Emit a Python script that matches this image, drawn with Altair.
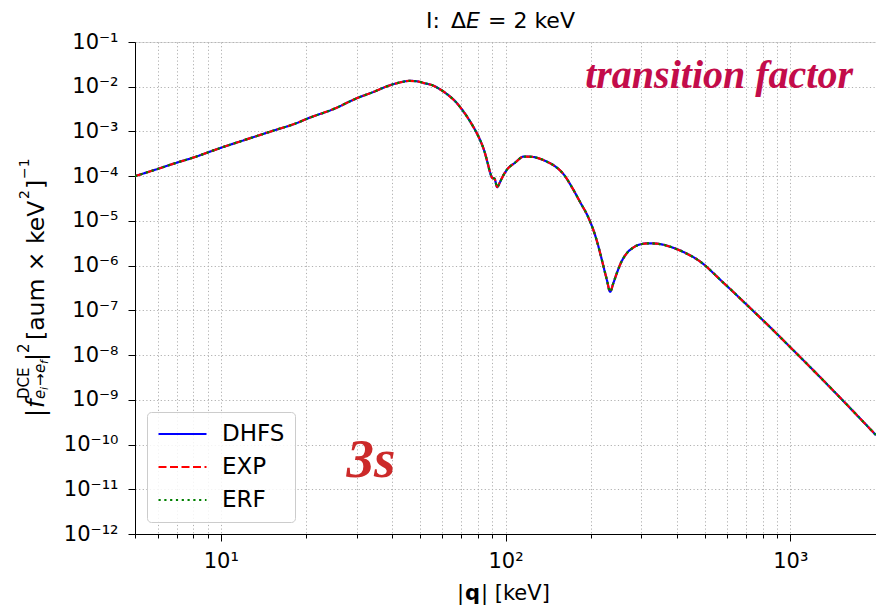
import altair as alt
import pandas as pd

# momentum transfer |q| in keV and the 3s transition factor for each model
q_kev = [5, 6, 7, 8, 10, 12, 15, 19, 20, 25, 30, 35, 38, 42, 46, 49, 52, 55.6, 58,
         61.8, 66, 70.6, 75, 78.7, 82, 84.1, 86.5, 88.5, 89.8, 91.5, 93.5, 95.5, 97.5,
         101, 108, 116, 124, 131, 140, 150, 160, 171, 183, 195, 209, 215, 221, 227,
         233, 239, 246, 255, 266, 280, 295, 317, 340, 382, 430, 473, 586, 726, 853,
         1000, 1208, 1457, 1700, 2000]

dhfs = [1.0e-4, 1.45e-4, 2.0e-4, 2.6e-4, 4.3e-4, 6.3e-4, 1.0e-3, 1.65e-3, 1.9e-3,
        3.2e-3, 5.5e-3, 8.0e-3, 1.0e-2, 1.22e-2, 1.35e-2, 1.32e-2, 1.2e-2, 1.07e-2,
        9.3e-3, 7.1e-3, 5.0e-3, 3.0e-3, 1.7e-3, 1.0e-3, 5.8e-4, 3.8e-4, 2.0e-4,
        1.15e-4, 9.2e-5, 8.8e-5, 5.7e-5, 7.2e-5, 9.5e-5, 1.38e-4, 2.0e-4, 2.75e-4,
        2.7e-4, 2.5e-4, 2.1e-4, 1.63e-4, 1.1e-4, 5.7e-5, 2.6e-5, 1.23e-5, 3.7e-6,
        1.9e-6, 9.4e-7, 4.8e-7, 2.6e-7, 4.0e-7, 6.8e-7, 1.2e-6, 1.86e-6, 2.5e-6,
        2.95e-6, 3.15e-6, 3.1e-6, 2.6e-6, 1.9e-6, 1.35e-6, 4.0e-7, 1.1e-7, 4.1e-8,
        1.5e-8, 4.5e-9, 1.33e-9, 4.8e-10, 1.62e-10]

exp_fit = [1.0e-4, 1.45e-4, 2.0e-4, 2.6e-4, 4.3e-4, 6.3e-4, 1.0e-3, 1.65e-3, 1.9e-3,
           3.2e-3, 5.5e-3, 8.0e-3, 1.0e-2, 1.22e-2, 1.35e-2, 1.32e-2, 1.2e-2, 1.07e-2,
           9.3e-3, 7.1e-3, 5.0e-3, 3.0e-3, 1.7e-3, 1.0e-3, 5.8e-4, 3.8e-4, 2.0e-4,
           1.15e-4, 9.2e-5, 8.8e-5, 5.7e-5, 7.2e-5, 9.5e-5, 1.38e-4, 2.0e-4, 2.75e-4,
           2.7e-4, 2.5e-4, 2.1e-4, 1.63e-4, 1.1e-4, 5.7e-5, 2.6e-5, 1.23e-5, 3.7e-6,
           1.9e-6, 9.4e-7, 4.8e-7, 2.6e-7, 4.0e-7, 6.8e-7, 1.2e-6, 1.86e-6, 2.5e-6,
           2.95e-6, 3.15e-6, 3.1e-6, 2.6e-6, 1.9e-6, 1.35e-6, 4.0e-7, 1.1e-7, 4.1e-8,
           1.5e-8, 4.5e-9, 1.33e-9, 4.8e-10, 1.62e-10]

erf_fit = [1.0e-4, 1.45e-4, 2.0e-4, 2.6e-4, 4.3e-4, 6.3e-4, 1.0e-3, 1.65e-3, 1.9e-3,
           3.2e-3, 5.5e-3, 8.0e-3, 1.0e-2, 1.22e-2, 1.35e-2, 1.32e-2, 1.2e-2, 1.07e-2,
           9.3e-3, 7.1e-3, 5.0e-3, 3.0e-3, 1.7e-3, 1.0e-3, 5.8e-4, 3.8e-4, 2.0e-4,
           1.15e-4, 9.2e-5, 8.8e-5, 5.7e-5, 7.2e-5, 9.5e-5, 1.38e-4, 2.0e-4, 2.75e-4,
           2.7e-4, 2.5e-4, 2.1e-4, 1.63e-4, 1.1e-4, 5.7e-5, 2.6e-5, 1.23e-5, 3.7e-6,
           1.9e-6, 9.4e-7, 4.8e-7, 2.6e-7, 4.0e-7, 6.8e-7, 1.2e-6, 1.86e-6, 2.5e-6,
           2.95e-6, 3.15e-6, 3.1e-6, 2.6e-6, 1.9e-6, 1.35e-6, 4.0e-7, 1.1e-7, 4.1e-8,
           1.5e-8, 4.5e-9, 1.33e-9, 4.8e-10, 1.62e-10]

series_names = ["DHFS", "EXP", "ERF"]
series_colors = ["#0000ff", "#ff0000", "#008000"]
series_dashes = [[1, 0], [8, 3.5], [2.2, 3.6]]

x_ticks = [5, 6, 7, 8, 9, 10, 20, 30, 40, 50, 60, 70, 80, 90,
           100, 200, 300, 400, 500, 600, 700, 800, 900, 1000, 2000]
y_ticks = [1e-12, 1e-11, 1e-10, 1e-9, 1e-8, 1e-7, 1e-6, 1e-5, 1e-4, 1e-3, 1e-2, 1e-1]

rows = []
for name, vals in zip(series_names, [dhfs, exp_fit, erf_fit]):
    for q, v in zip(q_kev, vals):
        rows.append({"q": q, "f": v, "series": name})
df = pd.DataFrame(rows)

FONT = "DejaVu Sans"
SERIF = "Liberation Serif"

# tick labels as 10 with a superscript exponent
SUP = "⁰¹²³⁴⁵⁶⁷⁸⁹"
EXPO = "round(log(datum.value)/LN10)"
ABS = f"abs({EXPO})"
DECADE = f"abs(log(datum.value)/LN10 - {EXPO}) < 0.001"
sup_expr = (f"({EXPO} < 0 ? '⁻' : '') + "
            f"({ABS} >= 10 ? substring('{SUP}', floor({ABS}/10), floor({ABS}/10) + 1) : '') + "
            f"substring('{SUP}', {ABS} % 10, {ABS} % 10 + 1)")
y_label_expr = f"'10' + {sup_expr}"
x_label_expr = f"{DECADE} ? '10' + {sup_expr} : ''"

grid_kw = dict(grid=True, gridColor="#b0b0b0", gridDash=[1.2, 2.4], gridWidth=1)

legend = alt.Legend(
    title=None, orient="none", legendX=12, legendY=370,
    symbolType="stroke", symbolSize=2304, symbolStrokeWidth=2.2,
    labelFont=FONT, labelFontSize=23, labelColor="black", labelOffset=14,
    clipHeight=24, rowPadding=9, padding=10,
    fillColor="rgba(255,255,255,0.85)", strokeColor="#cccccc", cornerRadius=4,
)

lines = alt.Chart(df).mark_line(strokeWidth=2.2, interpolate="monotone", clip=True).encode(
    x=alt.X("q:Q",
            scale=alt.Scale(type="log", domain=[5, 2000], nice=False),
            axis=alt.Axis(values=x_ticks, labelExpr=x_label_expr, title=None,
                          labelFont=FONT, labelFontSize=21, labelColor="black",
                          labelPadding=9, labelOverlap=False, labelFlush=False,
                          tickColor="black", domainColor="black", domainWidth=1,
                          tickSize={"condition": {"test": DECADE, "value": 7}, "value": 4},
                          tickWidth=1, **grid_kw)),
    y=alt.Y("f:Q",
            scale=alt.Scale(type="log", domain=[1e-12, 1e-1], nice=False),
            axis=alt.Axis(values=y_ticks, labelExpr=y_label_expr, title=None,
                          labelFont=FONT, labelFontSize=21, labelColor="black",
                          labelPadding=10, labelOverlap=False, labelFlush=False,
                          tickColor="black", domainColor="black", domainWidth=1,
                          tickSize=7, tickWidth=1, **grid_kw)),
    color=alt.Color("series:N", sort=series_names,
                    scale=alt.Scale(domain=series_names, range=series_colors), legend=legend),
    strokeDash=alt.StrokeDash("series:N", sort=series_names,
                              scale=alt.Scale(domain=series_names, range=series_dashes),
                              legend=legend),
)


def text(t, x, y, size, font=FONT, style="normal", weight="normal", color="black",
         align="left", angle=0, baseline="alphabetic"):
    kw = dict(font=font, fontSize=size, fontStyle=style, fontWeight=weight,
              color=color, align=align, baseline=baseline)
    if angle:
        kw["angle"] = angle
    return alt.Chart(pd.DataFrame({"t": [t]})).mark_text(**kw).encode(
        text="t:N", x=alt.value(x), y=alt.value(y))


# positions below are in pixels relative to the plot area's top-left corner
L, T = 135, 42

title_parts = [
    text("I:", 426 - L, 28 - T, 22),
    text("Δ", 451 - L, 28 - T, 22),
    text("E", 466 - L, 28 - T, 22, style="italic"),
    text("= 2 keV", 488 - L, 28 - T, 22),
]

xlabel_parts = [
    text("|", 457 - L, 600 - T, 21),
    text("q", 465 - L, 600 - T, 21, weight="bold"),
    text("| [keV]", 481 - L, 600 - T, 21),
]

# rotated y-axis title, built bottom to top
YB = 44 - L   # main baseline
YP = 29 - L   # superscript baseline
YS = 45 - L   # subscript baseline
ylabel_parts = [
    text("|", YB, 417 - T, 24, angle=270),
    text("f", YB, 408 - T, 24, style="italic", angle=270),
    text("DCE", YP, 399 - T, 15, angle=270),
    text("e", YS, 399 - T, 15, style="italic", angle=270),
    text("i", YS + 3, 390 - T, 11, style="italic", angle=270),
    text("→", YS, 386 - T, 15, angle=270),
    text("e", YS, 373 - T, 15, style="italic", angle=270),
    text("f", YS + 3, 364 - T, 11, style="italic", angle=270),
    text("|", YB, 361 - T, 24, angle=270),
    text("2", YP, 353 - T, 15, angle=270),
    text("[aum × keV", YB, 340 - T, 23.5, angle=270),
    text("2", YP, 199 - T, 14, angle=270),
    text("]", YB, 189 - T, 23.5, angle=270),
    text("−1", YP, 179 - T, 14, angle=270),
]

notes = [
    text("transition factor", 853 - L, 88 - T, 40, font=SERIF, style="italic",
         weight="bold", color="#c30c4a", align="right"),
    text("3s", 371 - L, 477 - T, 55, font=SERIF, style="italic", weight="bold",
         color="#cc2a2a", align="center"),
]

chart = alt.layer(lines, *notes, *title_parts, *xlabel_parts, *ylabel_parts).properties(
    width=741, height=492,
    padding={"left": L, "top": T, "right": 0, "bottom": 71},
    autosize=alt.AutoSizeParams(type="none"),
).configure_view(stroke="black", strokeWidth=1).configure(background="white")

chart.save("out.html", embed_options={"renderer": "svg", "actions": False})
